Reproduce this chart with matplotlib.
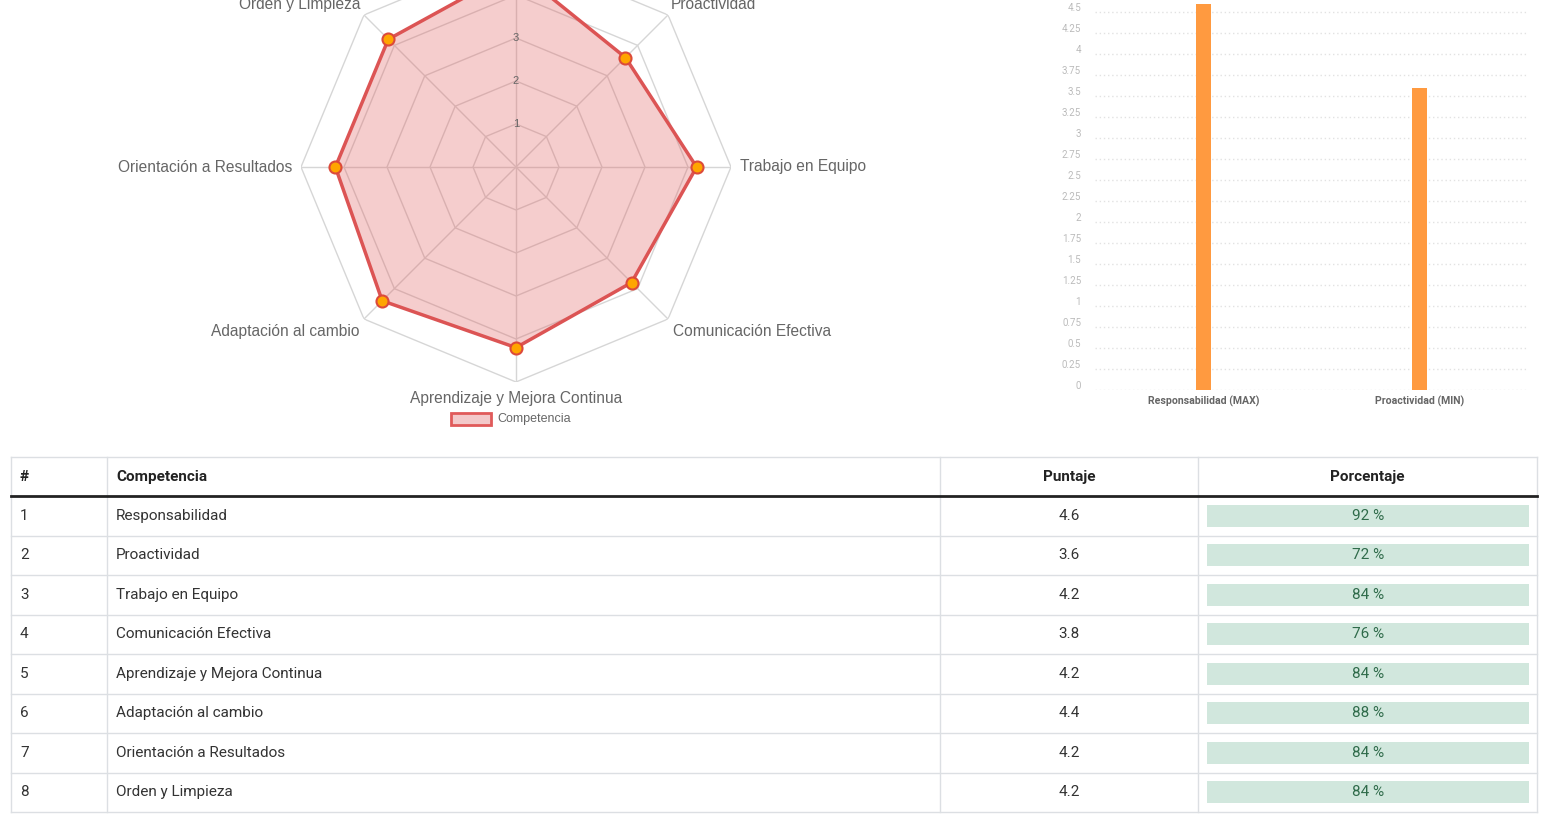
import matplotlib
matplotlib.use('Agg')
import matplotlib.pyplot as plt
import matplotlib.transforms as mtransforms
import numpy as np
from matplotlib.patches import Rectangle

# Data
competencias = ['Responsabilidad', 'Proactividad', 'Trabajo en Equipo', 'Comunicación Efectiva',
                'Aprendizaje y Mejora Continua', 'Adaptación al cambio',
                'Orientación a Resultados', 'Orden y Limpieza']
puntajes = [4.6, 3.6, 4.2, 3.8, 4.2, 4.4, 4.2, 4.2]
porcentajes = [92, 72, 84, 76, 84, 88, 84, 84]
bar_labels = ['Responsabilidad (MAX)', 'Proactividad (MIN)']
bar_values = [4.6, 3.6]
columnas = ['#', 'Competencia', 'Puntaje', 'Porcentaje']

W, H = 1552, 823
fig = plt.figure(figsize=(W / 100, H / 100), dpi=100)
fig.patch.set_facecolor('white')


def box(x0, y0, x1, y1):
    # pixel box (top-left origin) -> figure fraction rect
    return [x0 / W, 1 - y1 / H, (x1 - x0) / W, (y1 - y0) / H]


# ---------------- radar ----------------
cx, cy, R = 516, 167, 215
ax = fig.add_axes(box(cx - R, cy - R, cx + R, cy + R), projection='polar')
ax.set_theta_offset(np.pi / 2)
ax.set_theta_direction(-1)
ax.set_ylim(0, 5)
ax.grid(False)
ax.set_xticks([])
ax.set_yticks([])
ax.spines['polar'].set_visible(False)
ax.patch.set_alpha(0)

n = len(competencias)
ang = np.linspace(0, 2 * np.pi, n, endpoint=False)
ang_c = np.append(ang, ang[0])
for r in range(1, 6):
    ax.plot(ang_c, [r] * (n + 1), color='#d6d6d6', lw=1, zorder=1)
for a in ang:
    ax.plot([a, a], [0, 5], color='#d6d6d6', lw=1, zorder=1)

vals = np.append(puntajes, puntajes[0])
ax.fill(ang_c, vals, color='#e05a5a', alpha=0.3, zorder=2, lw=0)
ax.plot(ang_c, vals, color='#dc5454', lw=2.5, zorder=3)
ax.scatter(ang, puntajes, s=75, color='#ffa500', edgecolors='#dc4a3a', linewidths=1.5, zorder=4)

for r in range(1, 6):
    ax.text(0, r, str(r), ha='center', va='center', fontsize=8, color='#666666',
            family='Liberation Sans', zorder=5)

for a, lab in zip(ang, competencias):
    s, c = np.sin(a), np.cos(a)
    ha = 'center' if abs(s) < 0.1 else ('left' if s > 0 else 'right')
    va = 'center' if abs(c) < 0.1 else ('bottom' if c > 0 else 'top')
    if abs(s) < 0.1 or abs(c) < 0.1:
        rr = 5.2
    elif c < 0:
        rr = 5.15
    else:
        rr = 5.1
    ax.text(a, rr, lab, ha=ha, va=va, fontsize=11.2, color='#666666', family='Liberation Sans')

# overlay axes in pixel coordinates
ov = fig.add_axes([0, 0, 1, 1])
ov.set_xlim(0, W)
ov.set_ylim(H, 0)
ov.axis('off')
ov.patch.set_alpha(0)

# legend
ov.add_patch(Rectangle((451, 413), 40, 12, facecolor='#f3c9ca', edgecolor='#e05a5a', lw=2))
ov.text(497, 419, 'Competencia', ha='left', va='center', fontsize=9, color='#666666',
        family='Liberation Sans')

# ---------------- bar chart ----------------
bx = fig.add_axes(box(1095, 390 - 5 * 84, 1528, 390))
xb = np.arange(len(bar_values))
bx.bar(xb, bar_values, width=0.07, color='#ff9a40')
bx.set_xlim(-0.5, 1.5)
bx.set_ylim(0, 5)
yt = np.arange(0, 5.01, 0.25)
bx.set_yticks(yt)
bx.set_yticklabels(['%g' % v for v in yt])
bx.set_xticks(xb)
bx.set_xticklabels(bar_labels, fontsize=7.6, fontweight='bold', color='#666666', family='Roboto')
bx.tick_params(axis='y', labelsize=7, labelcolor='#bbbbbb', length=0, pad=10)
bx.tick_params(axis='x', length=0, pad=4)
shift = mtransforms.ScaledTranslation(0, 5 / 100, fig.dpi_scale_trans)
for lbl in bx.get_yticklabels():
    lbl.set_family('Roboto')
    lbl.set_transform(lbl.get_transform() + shift)
bx.grid(axis='y', color='#e2e2e2', linestyle=(0, (1, 2)), lw=1)
bx.set_axisbelow(True)
for sp in bx.spines.values():
    sp.set_visible(False)

# ---------------- table ----------------
col_x = [11, 107, 940, 1198, 1537]
head_top, head_bot = 457, 496
row_h = (812 - 496) / len(competencias)
border = '#dcdfe3'
fs = 11

ov.plot([col_x[0], col_x[-1]], [head_top, head_top], color=border, lw=1)
for x in col_x:
    ov.plot([x, x], [head_top, 812], color=border, lw=1)

tf = 'Roboto'
hy = (head_top + head_bot) / 2
ov.text(20, hy, columnas[0], ha='left', va='center', fontsize=fs,
        fontweight='bold', color='#222222', family=tf)
ov.text(116, hy, columnas[1], ha='left', va='center', fontsize=fs,
        fontweight='bold', color='#222222', family=tf)
ov.text((col_x[2] + col_x[3]) / 2, hy, columnas[2], ha='center', va='center',
        fontsize=fs, fontweight='bold', color='#222222', family=tf)
ov.text((col_x[3] + col_x[4]) / 2, hy, columnas[3], ha='center', va='center',
        fontsize=fs, fontweight='bold', color='#222222', family=tf)
ov.plot([col_x[0], col_x[-1]], [head_bot, head_bot], color='#222222', lw=2)

for i, (comp, p, pc) in enumerate(zip(competencias, puntajes, porcentajes)):
    y0 = head_bot + i * row_h
    ym = y0 + row_h / 2
    ov.plot([col_x[0], col_x[-1]], [y0 + row_h, y0 + row_h], color=border, lw=1)
    ov.text(20, ym, str(i + 1), ha='left', va='center', fontsize=fs, color='#333333', family=tf)
    ov.text(116, ym, comp, ha='left', va='center', fontsize=fs, color='#333333', family=tf)
    ov.text((col_x[2] + col_x[3]) / 2, ym, '%g' % p, ha='center', va='center', fontsize=fs,
            color='#333333', family=tf)
    ov.add_patch(Rectangle((1207, ym - 11), 322, 22, facecolor='#d1e7dd', edgecolor='none'))
    ov.text((1207 + 1529) / 2, ym, '%d %%' % pc, ha='center', va='center', fontsize=fs,
            color='#2f6b4a', family=tf)

fig.savefig('out.png', dpi=100, facecolor='white')
